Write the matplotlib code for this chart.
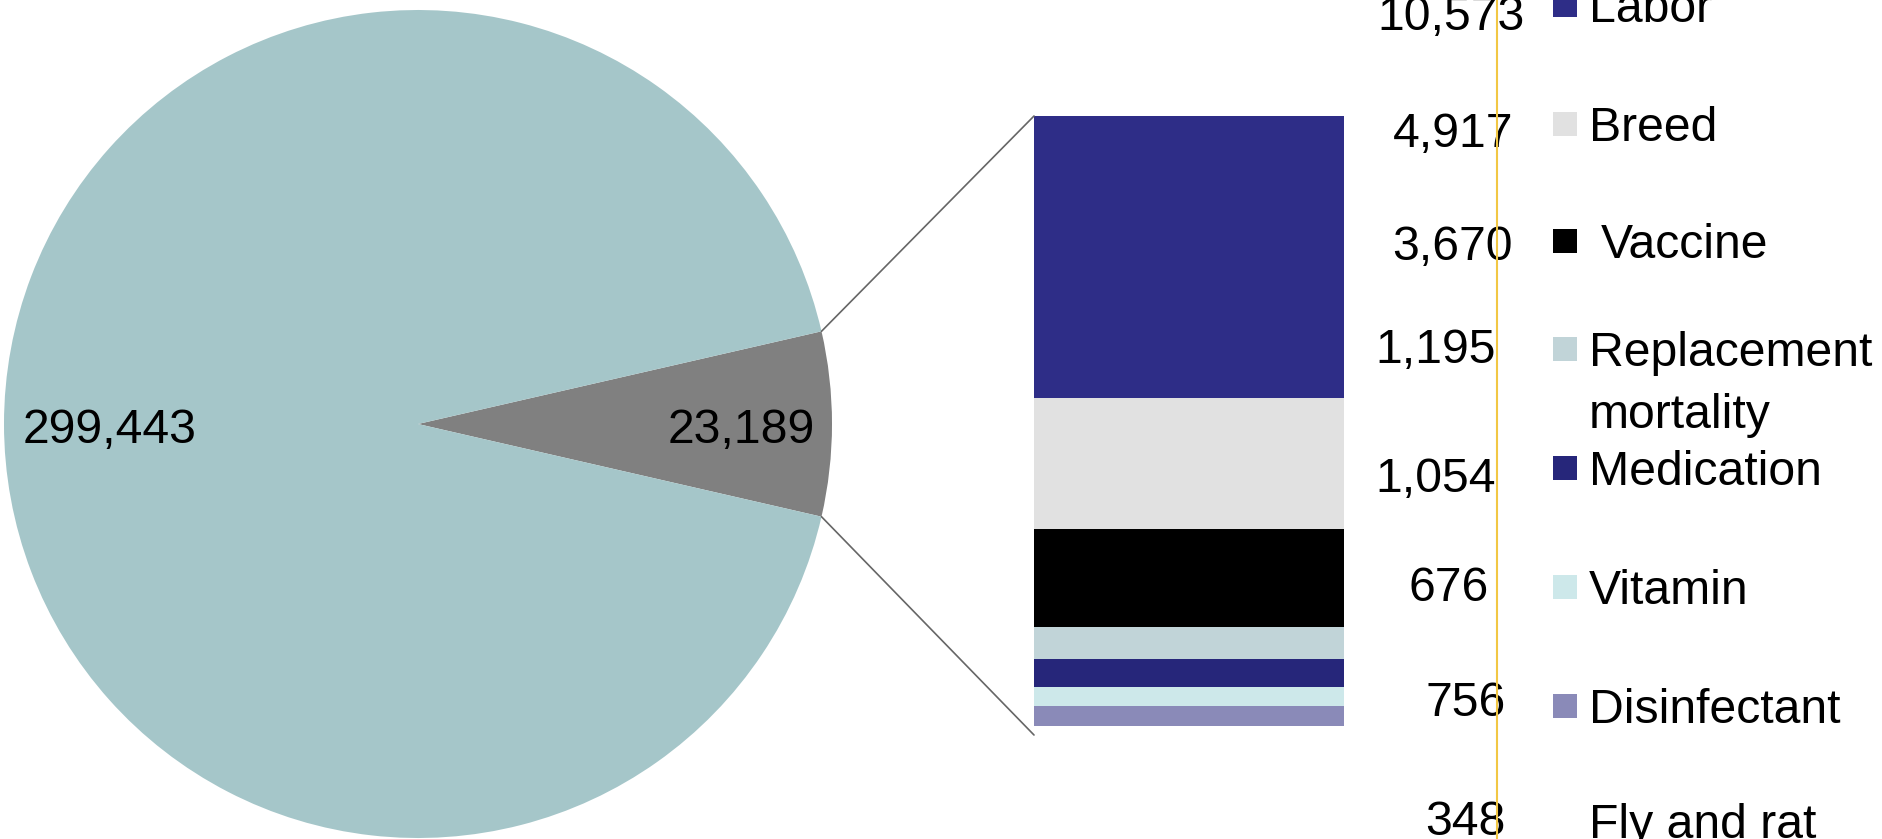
import matplotlib
matplotlib.use("Agg")
import matplotlib.pyplot as plt
from matplotlib.patches import ConnectionPatch, Rectangle
from matplotlib.lines import Line2D
import numpy as np

plt.rcParams['font.family'] = ['Liberation Sans', 'DejaVu Sans']

# pie data
pie_values = [23189, 299443]
pie_colors = ['#808080', '#A5C6C9']

# breakdown of the small slice (top to bottom in the bar)
items = ['Labor', 'Breed', 'Vaccine', 'Replacement\nmortality', 'Medication',
         'Vitamin', 'Disinfectant', 'Fly and rat']
costs = [10573, 4917, 3670, 1195, 1054, 676, 756, 348]
item_colors = ['#2E2D87', '#E1E1E1', '#000000', '#C1D4D8', '#26267A',
               '#CDE8EA', '#8A8AB8', '#FFFFFF']

W, H = 1882, 839
fig = plt.figure(figsize=(W / 100, H / 100), dpi=100)


def box(x0, y0, x1, y1):
    # pixel box (top-left origin) -> figure fraction rect
    return [x0 / W, 1 - y1 / H, (x1 - x0) / W, (y1 - y0) / H]


def pt(x, y):
    return x / W, 1 - y / H


fs = 34.7

# ---- pie ----
ax1 = fig.add_axes(box(4, 10, 832, 838))
small_angle = 360 * pie_values[0] / sum(pie_values)
wedges, _ = ax1.pie(pie_values, colors=pie_colors, startangle=-small_angle / 2,
                    radius=1, wedgeprops=dict(linewidth=0))
for w, v, d in zip(wedges, pie_values, [0.78, 0.745]):
    mid = np.deg2rad((w.theta1 + w.theta2) / 2)
    ax1.text(d * np.cos(mid), d * np.sin(mid) - 0.015, f'{v:,}', ha='center',
             va='center', fontsize=fs, color='black')
ax1.set_xlim(-1, 1)
ax1.set_ylim(-1, 1)
ax1.set_aspect('equal')
ax1.axis('off')

# ---- stacked bar ----
ax2 = fig.add_axes(box(1034, 116, 1344, 735))
bottom = 0
for c, col in zip(costs[::-1], item_colors[::-1]):
    ax2.bar(0, c, bottom=bottom, width=1, color=col, linewidth=0)
    bottom += c
ax2.set_xlim(-0.5, 0.5)
ax2.set_ylim(0, sum(costs))
ax2.axis('off')

# connector lines
t = np.deg2rad(small_angle / 2)
for sgn, yb in [(1, sum(costs)), (-1, 0)]:
    con = ConnectionPatch(xyA=(np.cos(t), sgn * np.sin(t)), coordsA=ax1.transData,
                          xyB=(-0.5, yb), coordsB=ax2.transData,
                          color='#666666', lw=1.2)
    fig.add_artist(con)

# ---- value labels and legend on the right ----
num_right = [1525, 1513, 1513, 1496, 1496, 1489, 1506, 1506]
num_base = [30, 147, 260, 363, 492, 601, 716, 835]
txt_base = [22, 141, 258, 366, 485, 604, 723, 838]
txt_x = [1589, 1589, 1601, 1589, 1589, 1589, 1589, 1589]

for i, name in enumerate(items):
    x, y = pt(num_right[i], num_base[i])
    fig.text(x, y, f'{costs[i]:,}', ha='right', va='baseline', fontsize=fs,
             zorder=3)
    lines = name.split('\n')
    for j, ln in enumerate(lines):
        x, y = pt(txt_x[i], txt_base[i] + 62 * j)
        fig.text(x, y, ln, ha='left', va='baseline', fontsize=fs, zorder=3)
    if item_colors[i] != '#FFFFFF':
        top = txt_base[i] - 29
        x0, y0 = pt(1553, top + 24)
        fig.add_artist(Rectangle((x0, y0), 24 / W, 24 / H, transform=fig.transFigure,
                                 facecolor=item_colors[i], edgecolor='none'))

fig.add_artist(Line2D([1497 / W, 1497 / W], [0, 1], transform=fig.transFigure,
                      color='#F2C744', lw=1.5, zorder=5))

fig.savefig('out.png', dpi=100, facecolor='white')
